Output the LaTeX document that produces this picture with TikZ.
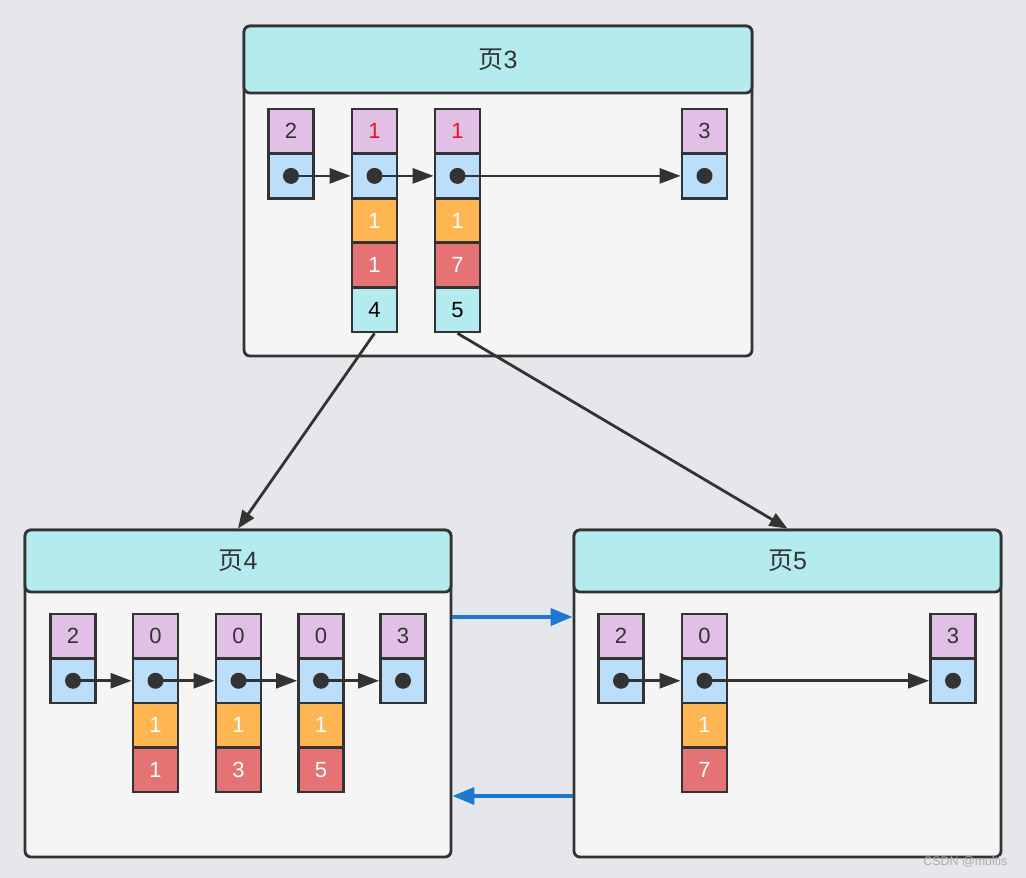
\documentclass[tikz,border=0pt]{standalone}
\usepackage{fontspec}
\setmainfont{Liberation Sans}
\newfontfamily\cjk{Noto Sans CJK SC}
\usetikzlibrary{arrows.meta}
\definecolor{bgc}{HTML}{E6E7EA}
\definecolor{bodyc}{HTML}{F5F5F5}
\definecolor{headc}{HTML}{B4EBEE}
\definecolor{linec}{HTML}{333333}
\definecolor{txtc}{HTML}{333333}
\definecolor{purc}{HTML}{E1C0E6}
\definecolor{bluc}{HTML}{BBDEFA}
\definecolor{orac}{HTML}{FDB652}
\definecolor{redc}{HTML}{E57373}
\definecolor{cyac}{HTML}{B4EBF0}
\definecolor{arrblue}{HTML}{1E78D2}
\definecolor{keyred}{HTML}{E8141E}
\definecolor{wmc}{HTML}{A9ADB3}
\tikzset{
  pagebox/.style={draw=linec, line width=2.8pt, fill=bodyc, rounded corners=6pt, inner sep=0},
  headbox/.style={draw=linec, line width=2.8pt, fill=headc, rounded corners=6pt, inner sep=0,
    font=\fontsize{25}{30}\selectfont, text=txtc},
  cell/.style={draw=linec, line width=2.8pt, minimum width=45pt, minimum height=44.5pt, inner sep=0,
    font=\fontsize{22}{26}\selectfont, text=txtc},
  kcell/.style={cell, fill=purc},
  pcell/.style={cell, fill=bluc},
  ocell/.style={cell, fill=orac, text=white},
  rcell/.style={cell, fill=redc, text=white},
  ccell/.style={cell, fill=cyac, text=black},
  pdot/.style={circle, fill=linec, minimum size=16pt, inner sep=0},
  ptr/.style={draw=linec, line width=2.8pt, -{Triangle[length=21pt,width=15pt]}},
  child/.style={draw=linec, line width=2.8pt, -{Triangle[length=18pt,width=14pt]}},
  sib/.style={draw=arrblue, line width=3.8pt, -{Triangle[length=22pt,width=17pt]}},
}
\begin{document}
\begin{tikzpicture}[x=1pt,y=-1pt]
\fill[bgc] (0,0) rectangle (1026,878);
\useasboundingbox (0,0) rectangle (1026,878);

% ---------- pages ----------
\node[pagebox, minimum width=508pt, minimum height=330pt] (pg3) at (498,191) {};
\node[headbox, minimum width=508pt, minimum height=67pt] (h3) at (498,59.5) {{\cjk 页}3};
\node[pagebox, minimum width=426pt, minimum height=327pt] (pg4) at (238,693.5) {};
\node[headbox, minimum width=426pt, minimum height=62pt] (h4) at (238,561) {{\cjk 页}4};
\node[pagebox, minimum width=427pt, minimum height=327pt] (pg5) at (787.5,693.5) {};
\node[headbox, minimum width=427pt, minimum height=62pt] (h5) at (787.5,561) {{\cjk 页}5};

% ---------- page 3 cells ----------
\node[kcell] (a1k) at (291,131.3) {2};
\node[pcell] (a1p) at (291,175.9) {};
\node[kcell, text=keyred] (a2k) at (374.5,131.3) {1};
\node[pcell] (a2p) at (374.5,175.9) {};
\node[ocell] (a2o) at (374.5,220.5) {1};
\node[rcell] (a2r) at (374.5,265.1) {1};
\node[ccell] (a2c) at (374.5,309.7) {4};
\node[kcell, text=keyred] (a3k) at (457.5,131.3) {1};
\node[pcell] (a3p) at (457.5,175.9) {};
\node[ocell] (a3o) at (457.5,220.5) {1};
\node[rcell] (a3r) at (457.5,265.1) {7};
\node[ccell] (a3c) at (457.5,309.7) {5};
\node[kcell] (a4k) at (704.5,131.3) {3};
\node[pcell] (a4p) at (704.5,175.9) {};

% ---------- page 4 cells ----------
\node[kcell] (b1k) at (73,636.25) {2};
\node[pcell] (b1p) at (73,680.75) {};
\node[kcell] (b2k) at (155.5,636.25) {0};
\node[pcell] (b2p) at (155.5,680.75) {};
\node[ocell] (b2o) at (155.5,725.25) {1};
\node[rcell] (b2r) at (155.5,769.75) {1};
\node[kcell] (b3k) at (238.5,636.25) {0};
\node[pcell] (b3p) at (238.5,680.75) {};
\node[ocell] (b3o) at (238.5,725.25) {1};
\node[rcell] (b3r) at (238.5,769.75) {3};
\node[kcell] (b4k) at (321,636.25) {0};
\node[pcell] (b4p) at (321,680.75) {};
\node[ocell] (b4o) at (321,725.25) {1};
\node[rcell] (b4r) at (321,769.75) {5};
\node[kcell] (b5k) at (403,636.25) {3};
\node[pcell] (b5p) at (403,680.75) {};

% ---------- page 5 cells ----------
\node[kcell] (c1k) at (621,636.25) {2};
\node[pcell] (c1p) at (621,680.75) {};
\node[kcell] (c2k) at (704.5,636.25) {0};
\node[pcell] (c2p) at (704.5,680.75) {};
\node[ocell] (c2o) at (704.5,725.25) {1};
\node[rcell] (c2r) at (704.5,769.75) {7};
\node[kcell] (c3k) at (953,636.25) {3};
\node[pcell] (c3p) at (953,680.75) {};

% ---------- pointer dots ----------
\foreach \n in {a1,a2,a3,a4,b1,b2,b3,b4,b5,c1,c2,c3}
  \node[pdot] (\n d) at (\n p.center) {};

% ---------- record links ----------
\draw[ptr] (a1d.center) -- (a2p.west);
\draw[ptr] (a2d.center) -- (a3p.west);
\draw[ptr] (a3d.center) -- (a4p.west);
\draw[ptr] (b1d.center) -- (b2p.west);
\draw[ptr] (b2d.center) -- (b3p.west);
\draw[ptr] (b3d.center) -- (b4p.west);
\draw[ptr] (b4d.center) -- (b5p.west);
\draw[ptr] (c1d.center) -- (c2p.west);
\draw[ptr] (c2d.center) -- (c3p.west);

% ---------- child page links ----------
\draw[child] (a2c.south) -- (h4.north);
\draw[child] (a3c.south) -- (h5.north);

% ---------- sibling links ----------
\coordinate (s1) at (0,617);
\coordinate (s2) at (0,796);
\draw[sib] (pg4.east |- s1) -- (pg5.west |- s1);
\draw[sib] (pg5.west |- s2) -- (pg4.east |- s2);

% ---------- watermark ----------
\node[text=wmc, font=\fontsize{12.5}{15}\selectfont, anchor=east] (wm) at (1011,862) {CSDN @multis};
\end{tikzpicture}
\end{document}
